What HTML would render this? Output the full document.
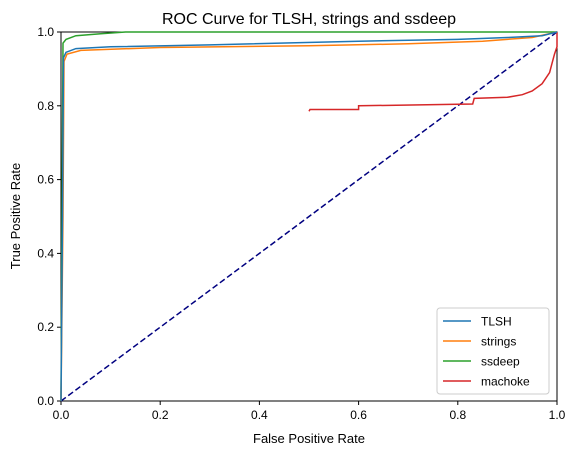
<!DOCTYPE html>
<html><head><meta charset="utf-8"><style>
body{margin:0;background:#fff;}
svg{display:block;font-family:"Liberation Sans","DejaVu Sans",sans-serif;}
</style></head><body>
<svg id="chart" width="578" height="455">
<rect width="578" height="455" fill="#fff"/>
<text x="309" y="24" text-anchor="middle" font-size="16">ROC Curve for TLSH, strings and ssdeep</text>
<text x="309" y="443" text-anchor="middle" font-size="13">False Positive Rate</text>
<text transform="translate(20,216) rotate(-90)" text-anchor="middle" font-size="13">True Positive Rate</text>
<g id="axes"></g>
<g id="series"></g>
</svg>
<script>
const xTicks=[0,0.2,0.4,0.6,0.8,1.0];
const yTicks=[0,0.2,0.4,0.6,0.8,1.0];
const tickLabels=["0.0","0.2","0.4","0.6","0.8","1.0"];
const seriesNames=["TLSH","strings","ssdeep","machoke"];
const seriesColors=["#1f77b4","#ff7f0e","#2ca02c","#d62728"];
const tlshFpr=[0,0.003,0.005,0.01,0.03,0.1,0.3,0.6,0.8,0.9,0.97,1];
const tlshTpr=[0,0.5,0.93,0.945,0.955,0.96,0.965,0.975,0.98,0.985,0.99,1];
const stringsFpr=[0,0.004,0.006,0.012,0.04,0.2,0.5,0.7,0.85,0.95,1];
const stringsTpr=[0,0.5,0.92,0.94,0.95,0.958,0.963,0.968,0.975,0.985,1];
const ssdeepFpr=[0,0.004,0.01,0.03,0.08,0.13,1];
const ssdeepTpr=[0,0.97,0.98,0.99,0.995,1,1];
const machokeFpr=[0.5,0.502,0.6,0.6,0.83,0.833,0.9,0.93,0.95,0.97,0.985,0.99,0.995,1,1];
const machokeTpr=[0.785,0.79,0.79,0.8,0.805,0.82,0.823,0.83,0.84,0.86,0.89,0.915,0.94,0.96,1];
const diagFpr=[0,1];
const diagTpr=[0,1];

const X0=61,X1=557,Y0=401,Y1=32;
const sx=v=>X0+v*(X1-X0);
const sy=v=>Y0-v*(Y0-Y1);
const NS="http://www.w3.org/2000/svg";
const axes=document.getElementById('axes');
const ser=document.getElementById('series');
function mk(tag,attrs,parent){const e=document.createElementNS(NS,tag);for(const k in attrs)e.setAttribute(k,attrs[k]);parent.appendChild(e);return e;}

xTicks.forEach((t,i)=>{
  const l=mk('line',{x1:sx(t),x2:sx(t),y1:Y0,y2:Y0+4,stroke:'#000'},axes);
  
  
  const tx=mk('text',{x:sx(t),y:Y0+18,'text-anchor':'middle','font-size':'12'},axes);
  tx.textContent=tickLabels[i];
  
  
});
yTicks.forEach((t,i)=>{
  const l=mk('line',{x1:X0-4,x2:X0,y1:sy(t),y2:sy(t),stroke:'#000'},axes);
  
  
  const tx=mk('text',{x:X0-7,y:sy(t)+4,'text-anchor':'end','font-size':'12'},axes);
  tx.textContent=tickLabels[i];
  
  
});

function line(xs,ys,color,name,dash){
  const d=xs.map((x,i)=>(i?'L':'M')+sx(x).toFixed(1)+','+sy(ys[i]).toFixed(1)).join('');
  const p=mk('path',{d:d,fill:'none',stroke:color,'stroke-width':'1.5'},ser);
  if(dash)p.setAttribute('stroke-dasharray',dash);
  
  
}
line(diagFpr,diagTpr,'#000080','diagonal-reference-line','6,3');
line(machokeFpr,machokeTpr,seriesColors[3],'machoke-line');
line(ssdeepFpr,ssdeepTpr,seriesColors[2],'ssdeep-line');
line(stringsFpr,stringsTpr,seriesColors[1],'strings-line');
line(tlshFpr,tlshTpr,seriesColors[0],'tlsh-line');

const fr=mk('rect',{x:X0,y:Y1,width:X1-X0,height:Y0-Y1,fill:'none',stroke:'#000','stroke-width':'1'},axes);



const lg=mk('g',{},ser);


mk('rect',{x:437,y:308,width:112,height:86,rx:3,fill:'#fff','fill-opacity':'0.8',stroke:'#ccc'},lg);
seriesNames.forEach((n,i)=>{
  const y=321+i*20;
  const g=mk('g',{},lg);
  
  
  mk('line',{x1:443,x2:471,y1:y,y2:y,stroke:seriesColors[i],'stroke-width':'1.5'},g);
  const t=mk('text',{x:481,y:y+4.5,'font-size':'12'},g);
  t.textContent=n;
});
</script>
</body></html>
